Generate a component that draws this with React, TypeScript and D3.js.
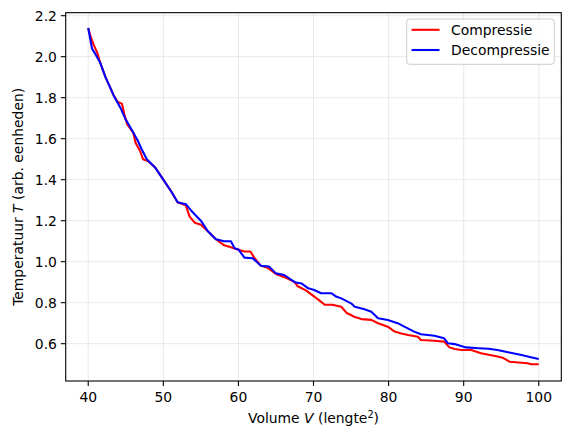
import * as d3 from "d3";
import { useEffect } from "react";

// Compressie (red): volume, temperature
const compV = [40.0, 40.3, 40.7, 41.2, 41.6, 42.3, 42.8, 43.4, 43.9, 44.5, 44.8, 45.2, 46.0, 46.3, 46.9, 47.3, 48.0, 48.9, 50.0, 51.1, 51.9, 53.0, 53.5, 54.2, 55.0, 55.9, 57.0, 58.1, 59.0, 59.9, 60.8, 61.6, 62.1, 63.0, 63.9, 65.0, 66.4, 67.5, 67.9, 69.0, 70.1, 70.8, 71.5, 72.5, 73.7, 74.4, 75.0, 75.5, 76.4, 77.7, 78.6, 79.9, 80.8, 81.7, 82.6, 83.9, 84.3, 86.1, 87.4, 88.1, 88.8, 89.7, 91.0, 92.3, 93.5, 94.5, 95.3, 96.1, 97.7, 98.5, 99.0, 100.0];
const compT = [2.14, 2.10, 2.06, 2.02, 1.97, 1.90, 1.86, 1.81, 1.78, 1.77, 1.72, 1.67, 1.63, 1.58, 1.54, 1.50, 1.49, 1.46, 1.40, 1.34, 1.29, 1.275, 1.22, 1.19, 1.18, 1.15, 1.11, 1.08, 1.07, 1.06, 1.05, 1.05, 1.02, 0.98, 0.97, 0.94, 0.92, 0.90, 0.88, 0.86, 0.83, 0.81, 0.79, 0.79, 0.78, 0.75, 0.74, 0.73, 0.72, 0.716, 0.70, 0.683, 0.659, 0.65, 0.642, 0.634, 0.618, 0.614, 0.61, 0.582, 0.574, 0.569, 0.569, 0.553, 0.545, 0.537, 0.53, 0.512, 0.507, 0.505, 0.50, 0.50];

// Decompressie (blue)
const decV = [40.0, 40.3, 40.5, 41.0, 41.6, 42.3, 43.4, 44.3, 44.9, 46.0, 46.6, 47.1, 47.8, 48.9, 50.0, 51.1, 51.9, 53.0, 53.7, 54.2, 55.0, 55.9, 57.0, 58.1, 59.0, 59.5, 60.0, 60.8, 61.9, 63.0, 64.1, 65.0, 66.1, 67.5, 68.4, 69.3, 70.1, 71.0, 72.4, 73.0, 73.7, 75.0, 75.5, 76.8, 77.7, 78.6, 79.9, 81.2, 82.1, 83.4, 84.3, 86.1, 87.4, 87.9, 88.8, 90.3, 92.0, 93.3, 94.5, 95.9, 97.7, 98.8, 100.0];
const decT = [2.14, 2.08, 2.04, 2.01, 1.97, 1.90, 1.81, 1.75, 1.70, 1.63, 1.59, 1.55, 1.50, 1.46, 1.40, 1.34, 1.29, 1.28, 1.25, 1.23, 1.20, 1.15, 1.11, 1.10, 1.10, 1.065, 1.06, 1.02, 1.017, 0.98, 0.976, 0.943, 0.935, 0.90, 0.894, 0.87, 0.862, 0.846, 0.846, 0.83, 0.821, 0.797, 0.78, 0.768, 0.756, 0.724, 0.716, 0.70, 0.683, 0.659, 0.646, 0.639, 0.626, 0.602, 0.598, 0.582, 0.578, 0.575, 0.569, 0.558, 0.545, 0.535, 0.525];

const xTicks = [40, 50, 60, 70, 80, 90, 100];
const yTicks = [0.6, 0.8, 1.0, 1.2, 1.4, 1.6, 1.8, 2.0, 2.2];

const W = 571;
const H = 442;
const plot = { left: 65.7, right: 561.3, top: 12.7, bottom: 381 };
const font = "DejaVu Sans, sans-serif";

export default function App() {
  useEffect(() => {
    document.body.style.margin = "0";
  }, []);

  const x = d3.scaleLinear().domain([37, 103]).range([plot.left, plot.right]);
  const y = d3.scaleLinear().domain([0.418, 2.2146]).range([plot.bottom, plot.top]);

  const line = d3
    .line<[number, number]>()
    .x((d) => x(d[0]))
    .y((d) => y(d[1]));

  const comp = compV.map((v, i) => [v, compT[i]] as [number, number]);
  const dec = decV.map((v, i) => [v, decT[i]] as [number, number]);

  return (
    <svg width={W} height={H} style={{ display: "block", background: "white" }}>
      {/* grid */}
      <g stroke="#b0b0b0" strokeOpacity={0.35} strokeWidth={0.8}>
        {xTicks.map((t) => (
          <line key={"gx" + t} x1={x(t)} x2={x(t)} y1={plot.top} y2={plot.bottom} />
        ))}
        {yTicks.map((t) => (
          <line key={"gy" + t} x1={plot.left} x2={plot.right} y1={y(t)} y2={y(t)} />
        ))}
      </g>

      <path d={line(comp) ?? ""} fill="none" stroke="red" strokeWidth={2.08} strokeLinejoin="round" />
      <path d={line(dec) ?? ""} fill="none" stroke="blue" strokeWidth={2.08} strokeLinejoin="round" />

      {/* frame */}
      <rect
        x={plot.left}
        y={plot.top}
        width={plot.right - plot.left}
        height={plot.bottom - plot.top}
        fill="none"
        stroke="black"
        strokeWidth={1.1}
      />

      {/* x axis */}
      <g fontFamily={font} fontSize={13.9} fill="black">
        {xTicks.map((t) => (
          <g key={"xt" + t}>
            <line x1={x(t)} x2={x(t)} y1={plot.bottom} y2={plot.bottom + 4.9} stroke="black" strokeWidth={1.1} />
            <text x={x(t)} y={plot.bottom + 20.5} textAnchor="middle">
              {t}
            </text>
          </g>
        ))}
        {yTicks.map((t) => (
          <g key={"yt" + t}>
            <line x1={plot.left - 4.9} x2={plot.left} y1={y(t)} y2={y(t)} stroke="black" strokeWidth={1.1} />
            <text x={plot.left - 8.8} y={y(t) + 5} textAnchor="end">
              {t.toFixed(1)}
            </text>
          </g>
        ))}
        <text x={(plot.left + plot.right) / 2} y={423} textAnchor="middle">
          Volume <tspan fontStyle="italic">V</tspan> (lengte
          <tspan dy={-5} fontSize={9.7}>2</tspan>
          <tspan dy={5}>)</tspan>
        </text>
        <text
          transform={`translate(23,${(plot.top + plot.bottom) / 2}) rotate(-90)`}
          textAnchor="middle"
        >
          Temperatuur <tspan fontStyle="italic">T</tspan> (arb. eenheden)
        </text>
      </g>

      {/* legend */}
      <g fontFamily={font} fontSize={13.9}>
        <rect x={406.7} y={19} width={147.6} height={45.3} rx={3} fill="white" fillOpacity={0.8} stroke="#cccccc" strokeWidth={1} />
        <line x1={411.5} x2={439.5} y1={29.8} y2={29.8} stroke="red" strokeWidth={2.08} />
        <text x={451} y={34.8}>Compressie</text>
        <line x1={411.5} x2={439.5} y1={50} y2={50} stroke="blue" strokeWidth={2.08} />
        <text x={451} y={55}>Decompressie</text>
      </g>
    </svg>
  );
}
